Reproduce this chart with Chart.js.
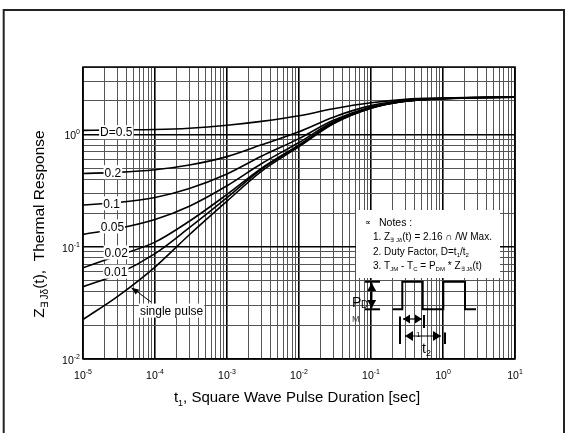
<!DOCTYPE html>
<html>
<head>
<meta charset="utf-8">
<script src="https://cdn.jsdelivr.net/npm/chart.js@4/dist/chart.umd.min.js"></script>
<style>
  html, body { margin: 0; padding: 0; background: #fff; }
  #wrap { position: relative; width: 569px; height: 433px; }
</style>
</head>
<body>
<div id="wrap"><canvas id="thermalChart" width="569" height="433"></canvas></div>
<script>
// pulse duration t1 [sec] where the curves were read
const pulseTimes = [1e-5, 3e-5, 1e-4, 3e-4, 1e-3, 3e-3, 1e-2, 3e-2, 1e-1, 3e-1, 1, 3, 10];

// Z(t) thermal response per duty factor
const zD050 = [1.09, 1.10, 1.11, 1.14, 1.21, 1.31, 1.47, 1.70, 1.92, 2.06, 2.12, 2.15, 2.16];
const zD020 = [0.45, 0.46, 0.485, 0.535, 0.636, 0.81, 1.06, 1.43, 1.81, 2.02, 2.10, 2.14, 2.16];
const zD010 = [0.236, 0.248, 0.275, 0.331, 0.446, 0.64, 0.92, 1.34, 1.76, 2.00, 2.10, 2.14, 2.16];
const zD005 = [0.129, 0.145, 0.175, 0.23, 0.35, 0.55, 0.85, 1.30, 1.74, 1.99, 2.09, 2.13, 2.16];
const zD002 = [0.065, 0.083, 0.11, 0.169, 0.293, 0.50, 0.81, 1.27, 1.73, 1.98, 2.09, 2.13, 2.16];
const zD001 = [0.044, 0.057, 0.087, 0.148, 0.274, 0.49, 0.79, 1.26, 1.72, 1.98, 2.09, 2.13, 2.15];
const zSingle = [0.0225, 0.036, 0.066, 0.128, 0.255, 0.47, 0.78, 1.25, 1.72, 1.98, 2.09, 2.13, 2.15];

const curveLabels = ['D=0.5', '0.2', '0.1', '0.05', '0.02', '0.01', 'single pulse'];
const labelT = [2.9e-5, 2.6e-5, 2.5e-5, 2.56e-5, 2.9e-5, 2.85e-5, 1.7e-4];
const labelZ = [1.05, 0.462, 0.244, 0.152, 0.089, 0.060, 0.027];

// axis decades (tick labels) and grid
const xTickValues = [1e-5, 1e-4, 1e-3, 1e-2, 1e-1, 1, 10];
const xTickExps = ['-5', '-4', '-3', '-2', '-1', '0', '1'];
const yTickValues = [1e-2, 1e-1, 1];
const yTickExps = ['-2', '-1', '0'];
const yMax = 4;

const FONT = '"Liberation Sans", Arial, Helvetica, sans-serif';

function gridTicks(decades, max) {
    const out = [];
    decades.forEach(d => {
        for (let m = 1; m <= 9; m++) {
            const v = d * m;
            if (v <= max * 1.0001) out.push({ value: v, major: m === 1 });
        }
    });
    return out;
}

// draw text pieces with sub/superscripts
function richText(ctx, x, y, parts, size, align) {
    const big = size + 'px ' + FONT;
    const small = Math.round(size * 0.62) + 'px ' + FONT;
    let w = 0;
    parts.forEach(p => { ctx.font = p[1] ? small : big; w += ctx.measureText(p[0]).width; });
    let cx = align === 'center' ? x - w / 2 : align === 'right' ? x - w : x;
    parts.forEach(p => {
        ctx.font = p[1] ? small : big;
        const dy = p[1] === 'sub' ? size * 0.35 : p[1] === 'sup' ? -size * 0.4 : 0;
        ctx.fillText(p[0], cx, y + dy);
        cx += ctx.measureText(p[0]).width;
    });
    return w;
}

function arrowHead(ctx, x, y, dir, len, half) {
    // dir = direction the tip points
    ctx.beginPath();
    if (dir === 'up') { ctx.moveTo(x, y); ctx.lineTo(x - half, y + len); ctx.lineTo(x + half, y + len); }
    if (dir === 'down') { ctx.moveTo(x, y); ctx.lineTo(x - half, y - len); ctx.lineTo(x + half, y - len); }
    if (dir === 'left') { ctx.moveTo(x, y); ctx.lineTo(x + len, y - half); ctx.lineTo(x + len, y + half); }
    if (dir === 'right') { ctx.moveTo(x, y); ctx.lineTo(x - len, y - half); ctx.lineTo(x - len, y + half); }
    ctx.closePath();
    ctx.fill();
}

function line(ctx, x1, y1, x2, y2) {
    ctx.beginPath(); ctx.moveTo(x1, y1); ctx.lineTo(x2, y2); ctx.stroke();
}

const decorPlugin = {
    id: 'decor',
    afterDatasetsDraw(chart) {
        const ctx = chart.ctx;
        const xs = chart.scales.x, ys = chart.scales.y;
        ctx.save();
        ctx.textBaseline = 'middle';
        ctx.fillStyle = '#000';

        // curve labels with white background
        curveLabels.forEach((txt, i) => {
            const px = xs.getPixelForValue(labelT[i]);
            const py = ys.getPixelForValue(labelZ[i]);
            ctx.font = '12px ' + FONT;
            const w = ctx.measureText(txt).width;
            ctx.fillStyle = '#fff';
            ctx.fillRect(px - w / 2 - 1, py - 7, w + 2, 14);
            ctx.fillStyle = '#000';
            ctx.textAlign = 'center';
            ctx.fillText(txt, px, py + 1);
        });
        ctx.textAlign = 'left';

        // single pulse arrow
        ctx.strokeStyle = '#000';
        ctx.lineWidth = 1;
        line(ctx, 151, 302, 135, 290);
        ctx.save();
        ctx.translate(131, 287.5);
        ctx.rotate(Math.atan2(302 - 287.5, 151 - 131));
        ctx.beginPath(); ctx.moveTo(0, 0); ctx.lineTo(8, -3); ctx.lineTo(8, 3); ctx.closePath(); ctx.fill();
        ctx.restore();

        // notes box
        ctx.fillStyle = '#fff';
        ctx.fillRect(356, 210, 144, 68);
        ctx.fillStyle = '#000';
        richText(ctx, 365, 223, [['\u221D', 0]], 8, 'left');
        richText(ctx, 379, 223, [['Notes :', 0]], 10.5, 'left');
        richText(ctx, 373, 237, [['1. Z', 0], ['\u2203 J\u03B4', 'sub'], ['(t) = 2.16 \u2229 /W Max.', 0]], 10, 'left');
        richText(ctx, 373, 252, [['2. Duty Factor, D=t', 0], ['1', 'sub'], ['/t', 0], ['2', 'sub']], 10, 'left');
        richText(ctx, 373, 266, [['3. T', 0], ['JM', 'sub'], [' - T', 0], ['C', 'sub'], [' = P', 0], ['DM', 'sub'],
            [' * Z', 0], ['\u2203 J\u03B4', 'sub'], ['(t)', 0]], 10, 'left');

        // square-wave pulse sketch
        ctx.lineWidth = 2;
        ctx.beginPath();
        ctx.moveTo(392.7, 309.3); ctx.lineTo(402.3, 309.3); ctx.lineTo(402.3, 281.7); ctx.lineTo(422.7, 281.7);
        ctx.lineTo(422.7, 309.3); ctx.lineTo(443.3, 309.3); ctx.lineTo(443.3, 281.7); ctx.lineTo(465, 281.7);
        ctx.lineTo(465, 309.3); ctx.lineTo(476, 309.3);
        ctx.stroke();

        // P_DM arrow
        line(ctx, 365, 281.7, 380, 281.7);
        line(ctx, 365, 309.3, 380, 309.3);
        ctx.lineWidth = 1.5;
        line(ctx, 371.7, 283, 371.7, 308);
        arrowHead(ctx, 371.7, 283, 'up', 8, 4.5);
        arrowHead(ctx, 371.7, 308, 'down', 8, 4.5);
        richText(ctx, 352, 303, [['P', 0]], 14, 'left');
        richText(ctx, 361, 305, [['D', 0]], 10, 'left');
        ctx.fillStyle = '#444';
        richText(ctx, 352, 320, [['M', 0]], 9, 'left');
        ctx.fillStyle = '#000';

        // t1 / t2 arrows
        ctx.lineWidth = 2;
        line(ctx, 400, 316.5, 400, 344);
        line(ctx, 424, 315, 424, 328);
        line(ctx, 445, 332.5, 445, 344);
        ctx.lineWidth = 1.2;
        line(ctx, 403, 319, 422, 319);
        arrowHead(ctx, 403, 319, 'left', 7, 4.5);
        arrowHead(ctx, 422, 319, 'right', 7, 4.5);
        line(ctx, 405, 336, 441, 336);
        arrowHead(ctx, 405, 336, 'left', 8, 5);
        arrowHead(ctx, 441, 336, 'right', 8, 5);
        richText(ctx, 416, 335, [['1', 0]], 8, 'left');
        richText(ctx, 422, 349, [['t', 0], ['2', 'sub']], 14, 'left');

        ctx.restore();
    },
    afterDraw(chart) {
        const ctx = chart.ctx;
        const xs = chart.scales.x, ys = chart.scales.y;
        const area = chart.chartArea;
        ctx.save();
        ctx.textBaseline = 'middle';
        ctx.fillStyle = '#000';

        // plot frame
        ctx.strokeStyle = '#000';
        ctx.lineWidth = 1.5;
        ctx.strokeRect(area.left, area.top, area.right - area.left, area.bottom - area.top);

        // decade tick labels
        xTickValues.forEach((v, i) => {
            richText(ctx, xs.getPixelForValue(v), 376, [['10', 0], [xTickExps[i], 'sup']], 10.5, 'center');
        });
        yTickValues.forEach((v, i) => {
            richText(ctx, 80, ys.getPixelForValue(v) + 2, [['10', 0], [yTickExps[i], 'sup']], 10.5, 'right');
        });

        // axis titles
        richText(ctx, 297, 398, [['t', 0], ['1', 'sub'], [', Square Wave Pulse Duration [sec]', 0]], 15, 'center');
        ctx.translate(40, 224);
        ctx.rotate(-Math.PI / 2);
        richText(ctx, 0, 0, [['Z', 0], ['\u2203 J\u03B4', 'sub'], ['(t),  Thermal Response', 0]], 15.5, 'center');
        ctx.restore();

        // outer page frame
        ctx.save();
        ctx.strokeStyle = '#222';
        ctx.lineWidth = 2;
        ctx.beginPath();
        ctx.moveTo(3.7, 440); ctx.lineTo(3.7, 10); ctx.lineTo(564, 10); ctx.lineTo(564, 440);
        ctx.stroke();
        ctx.restore();
    }
};

function mkSet(values) {
    return {
        data: pulseTimes.map((t, i) => ({ x: t, y: values[i] })),
        borderColor: '#000',
        borderWidth: 1.6,
        pointRadius: 0,
        fill: false,
        cubicInterpolationMode: 'monotone'
    };
}

const gridStyle = {
    drawTicks: false,
    color: c => (c.tick && c.tick.major) ? '#000' : '#555',
    lineWidth: c => (c.tick && c.tick.major) ? 1.6 : 1
};

new Chart(document.getElementById('thermalChart').getContext('2d'), {
    type: 'line',
    data: {
        datasets: [zD050, zD020, zD010, zD005, zD002, zD001, zSingle].map(mkSet)
    },
    options: {
        responsive: false,
        animation: false,
        layout: { padding: { left: 83, right: 54, top: 67, bottom: 74 } },
        plugins: { legend: { display: false }, tooltip: { enabled: false } },
        scales: {
            x: {
                type: 'logarithmic',
                min: xTickValues[0],
                max: xTickValues[xTickValues.length - 1],
                afterBuildTicks: s => { s.ticks = gridTicks(xTickValues, 10); },
                ticks: { display: false },
                grid: gridStyle,
                border: { display: false }
            },
            y: {
                type: 'logarithmic',
                min: yTickValues[0],
                max: yMax,
                afterBuildTicks: s => { s.ticks = gridTicks(yTickValues, yMax); },
                ticks: { display: false },
                grid: gridStyle,
                border: { display: false }
            }
        }
    },
    plugins: [decorPlugin]
});
</script>
</body>
</html>
